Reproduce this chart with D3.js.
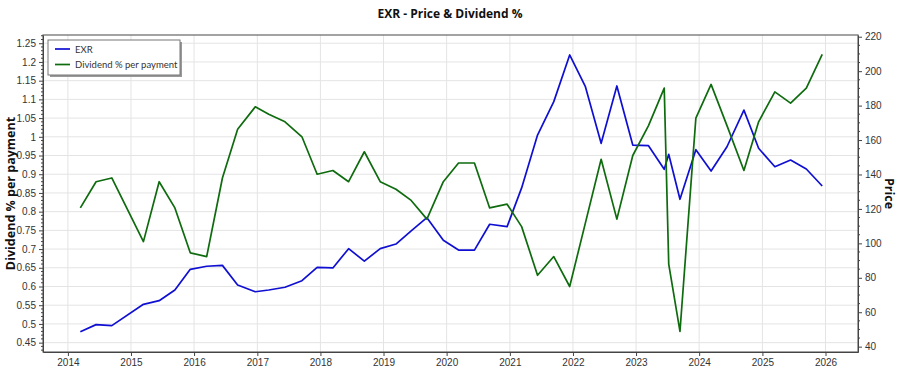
<!DOCTYPE html>
<html>
<head>
<meta charset="utf-8">
<script src="https://cdn.jsdelivr.net/npm/d3@7"></script>
<style>
    body { margin: 0; background: #fff; }
    svg { display: block; font-family: "Open Sans", "Noto Sans", sans-serif; }
</style>
</head>
<body>
<svg id="chart" width="900" height="375"></svg>
<script>
// Payment dates (approx)
const dates = [
    '2014-03-14', '2014-06-13', '2014-09-12',
    '2015-03-14', '2015-06-13', '2015-09-12', '2015-12-10',
    '2016-03-14', '2016-06-13', '2016-09-09', '2016-12-20',
    '2017-03-08', '2017-06-10', '2017-09-16', '2017-12-13',
    '2018-03-14', '2018-06-13', '2018-09-12', '2018-12-13',
    '2019-03-14', '2019-06-10', '2019-09-09', '2019-12-13',
    '2020-03-10', '2020-06-10', '2020-09-06', '2020-12-16',
    '2021-03-10', '2021-06-10', '2021-09-12', '2021-12-13',
    '2022-03-14', '2022-06-13', '2022-09-12', '2022-12-13',
    '2023-03-14', '2023-06-13', '2023-07-09', '2023-09-12', '2023-12-13',
    '2024-03-10', '2024-06-10', '2024-09-16', '2024-12-10',
    '2025-03-14', '2025-06-13', '2025-09-12', '2025-12-13'
];

// Dividend % per payment (left axis)
const dividendPct = [
    0.81, 0.88, 0.89,
    0.72, 0.88, 0.81, 0.69,
    0.68, 0.89, 1.02, 1.08,
    1.06, 1.04, 1.00, 0.90,
    0.91, 0.88, 0.96, 0.88,
    0.86, 0.83, 0.78, 0.88,
    0.93, 0.93, 0.81, 0.82,
    0.76, 0.63, 0.68, 0.60,
    0.77, 0.94, 0.78, 0.95,
    1.03, 1.13, 0.66, 0.48, 1.05,
    1.14, 1.03, 0.91, 1.04,
    1.12, 1.09, 1.13, 1.22
];

// EXR price (right axis)
const price = [
    48.7, 52.8, 52.2,
    64.6, 66.7, 72.9, 84.9,
    86.7, 87.2, 75.8, 71.9,
    72.9, 74.5, 78.3, 86.1,
    85.7, 96.9, 89.7, 96.9,
    99.6, 107.3, 114.9, 101.8,
    96.1, 96.1, 111.1, 109.7,
    132.2, 162.9, 182.3, 209.4,
    191.0, 158.1, 191.4, 157.1,
    156.7, 143.0, 151.7, 125.6, 154.4,
    142.0, 156.1, 177.4, 155.2,
    144.5, 148.4, 143.2, 133.3
];

// Tick labels
const yearTicks = ['2014', '2015', '2016', '2017', '2018', '2019', '2020', '2021', '2022', '2023', '2024', '2025', '2026'];
const divTicks = ['0.45', '0.5', '0.55', '0.6', '0.65', '0.7', '0.75', '0.8', '0.85', '0.9', '0.95', '1', '1.05', '1.1', '1.15', '1.2', '1.25'];
const priceTicks = ['40', '60', '80', '100', '120', '140', '160', '180', '200', '220'];

const width = 900, height = 375;
const margin = {top: 35, right: 42, bottom: 23, left: 43};
const svg = d3.select('#chart');

const parse = d3.timeParse('%Y-%m-%d');
const rows = dates.map((d, i) => ({date: parse(d), div: dividendPct[i], price: price[i]}));

// Scales
const xScale = d3.scaleTime()
    .domain([new Date(2013, 7, 10), new Date(2026, 6, 8)])
    .range([margin.left, width - margin.right]);

const divScale = d3.scaleLinear()
    .domain([0.425, 1.272])
    .range([height - margin.bottom, margin.top]);

const priceScale = d3.scaleLinear()
    .domain([36.9, 221])
    .range([height - margin.bottom, margin.top]);

const yearDates = yearTicks.map(y => new Date(+y, 0, 1));
const divVals = divTicks.map(Number);
const priceVals = priceTicks.map(Number);

// Grid lines
const grid = svg.append('g').attr('id', 'g-grid');
grid.selectAll('line.h')
    .data(divVals)
    .join('line')
    .attr('class', 'h')
    .attr('x1', margin.left).attr('x2', width - margin.right)
    .attr('y1', d => divScale(d)).attr('y2', d => divScale(d))
    .attr('stroke', '#e4e4e4');
grid.selectAll('line.v')
    .data(yearDates)
    .join('line')
    .attr('class', 'v')
    .attr('x1', d => xScale(d)).attr('x2', d => xScale(d))
    .attr('y1', margin.top).attr('y2', height - margin.bottom)
    .attr('stroke', '#e4e4e4');

// Lines
const divLine = d3.line()
    .x(d => xScale(d.date))
    .y(d => divScale(d.div));
const priceLine = d3.line()
    .x(d => xScale(d.date))
    .y(d => priceScale(d.price));

svg.append('path')
    .datum(rows)
    .attr('fill', 'none')
    .attr('stroke', '#0f0fd2')
    .attr('stroke-width', 1.7)
    .attr('stroke-linejoin', 'round')
    .attr('d', priceLine);

svg.append('path')
    .datum(rows)
    .attr('fill', 'none')
    .attr('stroke', '#0e6b0e')
    .attr('stroke-width', 1.7)
    .attr('stroke-linejoin', 'round')
    .attr('d', divLine);

// Frame
svg.append('rect')
    .attr('x', margin.left).attr('y', margin.top)
    .attr('width', width - margin.left - margin.right)
    .attr('height', height - margin.top - margin.bottom)
    .attr('fill', 'none')
    .attr('stroke', '#666')
    .attr('stroke-width', 1.2);

// Axes
function styleAxis(g) {
    g.select('.domain').attr('stroke', '#444');
    g.selectAll('.tick line').attr('stroke', '#444');
    g.selectAll('.tick text').attr('fill', '#333').attr('font-size', '10px');
}

const xAxis = d3.axisBottom(xScale)
    .tickValues(yearDates)
    .tickFormat((d, i) => yearTicks[i])
    .tickSize(4).tickSizeOuter(0);
svg.append('g')
    .attr('transform', `translate(0,${height - margin.bottom})`)
    .call(xAxis)
    .call(styleAxis);

const leftAxis = d3.axisLeft(divScale)
    .tickValues(divVals)
    .tickFormat((d, i) => divTicks[i])
    .tickSize(4).tickSizeOuter(0);
svg.append('g')
    .attr('transform', `translate(${margin.left},0)`)
    .call(leftAxis)
    .call(styleAxis);

const rightAxis = d3.axisRight(priceScale)
    .tickValues(priceVals)
    .tickFormat((d, i) => priceTicks[i])
    .tickSize(4).tickSizeOuter(0);
svg.append('g')
    .attr('transform', `translate(${width - margin.right},0)`)
    .call(rightAxis)
    .call(styleAxis);

// Minor ticks
const minor = svg.append('g').attr('stroke', '#444');
minor.selectAll('line.ml')
    .data(d3.range(43, 128).map(v => v / 100).filter(v => Math.round(v * 100) % 5 !== 0))
    .join('line')
    .attr('x1', margin.left - 2).attr('x2', margin.left)
    .attr('y1', d => divScale(d)).attr('y2', d => divScale(d));
minor.selectAll('line.mr')
    .data(d3.range(40, 221, 5).filter(v => v % 20 !== 0))
    .join('line')
    .attr('x1', width - margin.right).attr('x2', width - margin.right + 2)
    .attr('y1', d => priceScale(d)).attr('y2', d => priceScale(d));

// Titles
svg.append('text')
    .attr('x', 450).attr('y', 18)
    .attr('text-anchor', 'middle')
    .attr('font-size', '12px').style('font-weight', 'bold')
    .attr('fill', '#111')
    .text('EXR - Price & Dividend %');

svg.append('text')
    .attr('transform', `translate(15,${(margin.top + height - margin.bottom) / 2}) rotate(-90)`)
    .attr('text-anchor', 'middle')
    .attr('font-size', '12.5px').style('font-weight', 'bold')
    .attr('fill', '#111')
    .text('Dividend % per payment');

svg.append('text')
    .attr('transform', `translate(885,${(margin.top + height - margin.bottom) / 2}) rotate(90)`)
    .attr('text-anchor', 'middle')
    .attr('font-size', '12.5px').style('font-weight', 'bold')
    .attr('fill', '#111')
    .text('Price');

// Legend
const legend = svg.append('g').attr('id', 'g-legend');
legend.append('rect')
    .attr('x', 50).attr('y', 42).attr('width', 132).attr('height', 35)
    .attr('fill', '#999');
legend.append('rect')
    .attr('x', 48).attr('y', 40).attr('width', 132).attr('height', 35)
    .attr('fill', '#fff').attr('stroke', '#777');

const legendItems = [
    {label: 'EXR', color: '#0f0fd2'},
    {label: 'Dividend % per payment', color: '#0e6b0e'}
];
legendItems.forEach((item, i) => {
    let y = 49 + i * 15.5;
    legend.append('line')
        .attr('x1', 55).attr('x2', 70)
        .attr('y1', y).attr('y2', y)
        .attr('stroke', item.color).attr('stroke-width', 1.7);
    legend.append('text')
        .attr('x', 75).attr('y', y + 3.5)
        .attr('font-size', '9.5px').attr('fill', '#333')
        .style('font-family', 'Lato, sans-serif')
        .text(item.label);
});
</script>
</body>
</html>
